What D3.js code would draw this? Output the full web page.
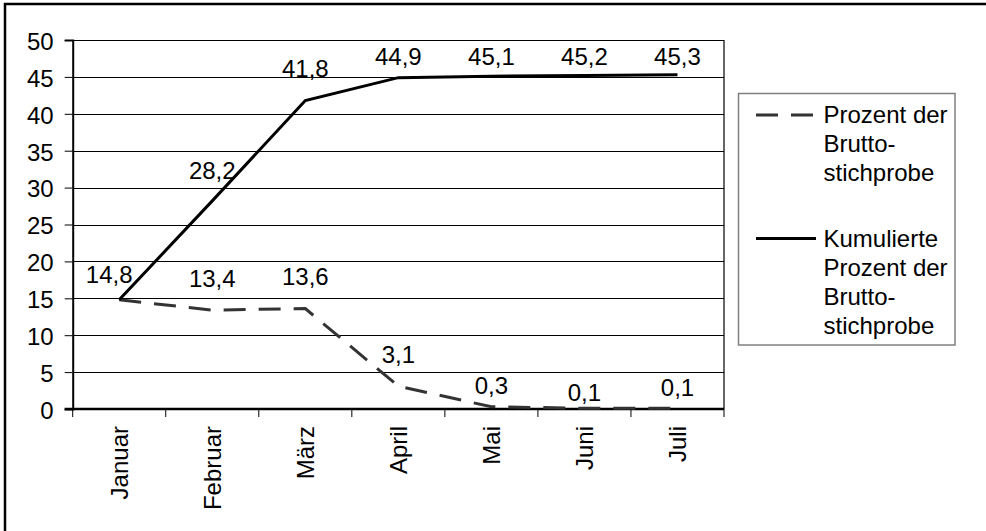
<!DOCTYPE html>
<html>
<head>
<meta charset="utf-8">
<script src="https://cdn.jsdelivr.net/npm/d3@7"></script>
<style>
  html, body { margin: 0; padding: 0; background: #fff; }
  svg { display: block; font-family: "Liberation Sans", Arial, sans-serif; }
</style>
</head>
<body>
<svg id="chart" width="986" height="531"></svg>
<script>
// Monate der Feldphase
const months = ["Januar", "Februar", "März", "April", "Mai", "Juni", "Juli"];
// Prozent der Bruttostichprobe je Monat
const percentValues = [14.8, 13.4, 13.6, 3.1, 0.3, 0.1, 0.1];
// Kumulierte Prozent der Bruttostichprobe
const cumulativeValues = [14.8, 28.2, 41.8, 44.9, 45.1, 45.2, 45.3];
// Beschriftung der y-Achse
const yTicks = [0, 5, 10, 15, 20, 25, 30, 35, 40, 45, 50];
const seriesNames = [
  ["Prozent der", "Brutto-", "stichprobe"],
  ["Kumulierte", "Prozent der", "Brutto-", "stichprobe"]
];

// Abstand der Wertbeschriftungen über den Punkten (px)
const percentLift = [null, 23, 23.6, 22.8, 12.8, 7.3, 12.3];
const cumulativeLift = [16.5, 22.2, 23.8, 23, 23, 23, 23];

const FONT = 24;
const svg = d3.select("#chart");
const fmt = v => String(v).replace(".", ",");

const plot = { left: 72.7, right: 724, top: 40, bottom: 409 };
const x = d3.scaleBand().domain(months).range([plot.left, plot.right]).padding(0);
const y = d3.scaleLinear().domain([0, 50]).range([plot.bottom, plot.top]);
const cx = m => x(m) + x.bandwidth() / 2;

// Rahmen um das gesamte Diagramm
svg.append("rect")
  .attr("x", 5).attr("y", 4).attr("width", 1200).attr("height", 1200)
  .attr("fill", "none").attr("stroke", "#000").attr("stroke-width", 2.5);

// Gitternetzlinien
svg.append("g").selectAll("line")
  .data(yTicks.filter(t => t > 0))
  .join("line")
  .attr("x1", plot.left).attr("x2", plot.right)
  .attr("y1", d => Math.round(y(d)) + 0.5).attr("y2", d => Math.round(y(d)) + 0.5)
  .attr("stroke", "#000").attr("stroke-width", 1);

// rechte Begrenzung der Zeichenfläche
svg.append("line")
  .attr("x1", plot.right).attr("x2", plot.right)
  .attr("y1", plot.top).attr("y2", plot.bottom)
  .attr("stroke", "#000").attr("stroke-width", 1.2);

// y-Achse
const yAxis = svg.append("g")
  .attr("transform", `translate(${plot.left},0)`)
  .call(d3.axisLeft(y).tickValues(yTicks).tickSize(8).tickPadding(11).tickFormat(d => d));
yAxis.select(".domain").attr("stroke", "#000").attr("stroke-width", 2);
yAxis.selectAll(".tick line").attr("stroke", "#000").attr("stroke-width", 1);
yAxis.selectAll(".tick text")
  .attr("font-size", FONT).attr("font-family", "Liberation Sans, Arial, sans-serif")
  .attr("fill", "#000").attr("dy", "0.39em");

// x-Achse mit Teilstrichen an den Kategoriegrenzen
const xAxisG = svg.append("g");
xAxisG.append("line")
  .attr("x1", plot.left - 8).attr("x2", plot.right)
  .attr("y1", plot.bottom).attr("y2", plot.bottom)
  .attr("stroke", "#000").attr("stroke-width", 2.5);
const boundaries = months.map(m => x(m)).concat([x(months[months.length - 1]) + x.bandwidth()]);
xAxisG.selectAll("line.tick")
  .data(boundaries)
  .join("line")
  .attr("class", "tick")
  .attr("x1", d => d).attr("x2", d => d)
  .attr("y1", plot.bottom).attr("y2", plot.bottom + 8)
  .attr("stroke", "#000").attr("stroke-width", 1);
xAxisG.selectAll("text")
  .data(months)
  .join("text")
  .attr("transform", d => `translate(${cx(d)},426) rotate(-90)`)
  .attr("text-anchor", "end")
  .attr("dy", "0.375em")
  .attr("font-size", FONT)
  .attr("fill", "#000")
  .text(d => d);

// Linien
const line = d3.line().x((d, i) => cx(months[i])).y(d => y(d));

svg.append("path")
  .datum(percentValues)
  .attr("d", line)
  .attr("fill", "none")
  .attr("stroke", "#333")
  .attr("stroke-width", 3)
  .attr("stroke-dasharray", "22,13");

svg.append("path")
  .datum(cumulativeValues)
  .attr("d", line)
  .attr("fill", "none")
  .attr("stroke", "#000")
  .attr("stroke-width", 3)
  .attr("stroke-linejoin", "miter");

// Wertbeschriftungen
function labelY(v, lift) {
  // Beschriftungen bleiben innerhalb der Zeichenfläche
  return Math.max(y(v) - lift, plot.top + 24.5);
}

svg.append("g").selectAll("text")
  .data(percentValues.map((v, i) => ({ v, i })).filter(d => percentLift[d.i] !== null))
  .join("text")
  .attr("x", d => cx(months[d.i]))
  .attr("y", d => labelY(d.v, percentLift[d.i]))
  .attr("text-anchor", "middle")
  .attr("font-size", FONT)
  .attr("fill", "#000")
  .text(d => fmt(d.v));

svg.append("g").selectAll("text")
  .data(cumulativeValues.map((v, i) => ({ v, i })))
  .join("text")
  .attr("x", d => cx(months[d.i]) + (d.i === 0 ? -10 : 0))
  .attr("y", d => labelY(d.v, cumulativeLift[d.i]))
  .attr("text-anchor", "middle")
  .attr("font-size", FONT)
  .attr("fill", "#000")
  .text(d => fmt(d.v));

// Legende
const legend = svg.append("g");
legend.append("rect")
  .attr("x", 738.5).attr("y", 93.5).attr("width", 216.5).attr("height", 251.5)
  .attr("fill", "#fff").attr("stroke", "#808080").attr("stroke-width", 1.5);

const legendEntries = [
  { y: 115, firstBaseline: 122.7, lines: seriesNames[0], stroke: "#333", dash: "22,13" },
  { y: 238.5, firstBaseline: 246.7, lines: seriesNames[1], stroke: "#000", dash: null }
];
legendEntries.forEach(e => {
  legend.append("line")
    .attr("x1", 756).attr("x2", 816)
    .attr("y1", e.y).attr("y2", e.y)
    .attr("stroke", e.stroke).attr("stroke-width", 3)
    .attr("stroke-dasharray", e.dash);
  legend.append("g").selectAll("text")
    .data(e.lines)
    .join("text")
    .attr("x", 823.5)
    .attr("y", (d, i) => e.firstBaseline + i * 29)
    .attr("font-size", FONT)
    .attr("fill", "#000")
    .text(d => d);
});
</script>
</body>
</html>
